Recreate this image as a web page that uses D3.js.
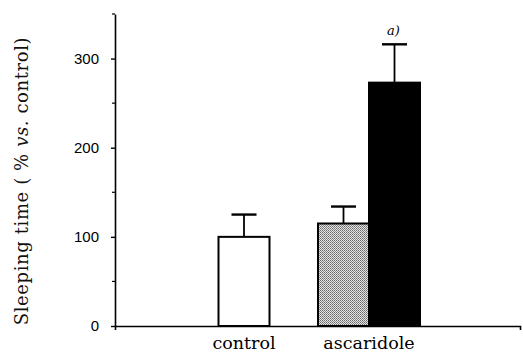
<!DOCTYPE html>
<html>
<head>
<meta charset="utf-8">
<script src="https://cdn.jsdelivr.net/npm/d3@7"></script>
<style>
  body { margin: 0; background: #fff; }
  svg { display: block; }
</style>
</head>
<body>
<svg width="523" height="354"></svg>
<script>
// data
const groups = ["control", "ascaridole"];
const barGroup = ["control", "ascaridole", "ascaridole"];
const barSlot = [0, -1, 1]; // 0 = centred, -1 left half, 1 right half
const barValues = [100, 115, 273];
const barErrors = [25, 19, 43];
const barFills = ["white", "url(#dots)", "black"];
const majorTicks = [0, 100, 200, 300];
const minorTicks = [50, 150, 250, 350];
const marks = ["", "", "a)"];

const serif = "'DejaVu Serif', 'Liberation Serif', serif";

let svg = d3.select("svg");

// halftone pattern for the grey bar
let defs = svg.append("defs");
let pat = defs
  .append("pattern")
  .attr("id", "dots")
  .attr("width", 2)
  .attr("height", 2)
  .attr("patternUnits", "userSpaceOnUse");
pat.append("rect").attr("width", 2).attr("height", 2).attr("fill", "#e4e4e4");
pat.append("rect").attr("width", 1).attr("height", 1).attr("fill", "#6a6a6a");
pat.append("rect").attr("x", 1).attr("y", 1).attr("width", 1).attr("height", 1).attr("fill", "#8a8a8a");

let y = d3.scaleLinear().domain([0, 350]).range([326, 14]);
let x = d3.scalePoint().domain(groups).range([244, 369]);
let barW = 51;

// x axis line, just a baseline with end ticks
let xLine = d3.scaleLinear().domain([0, 1]).range([115, 520]);
svg
  .append("g")
  .attr("transform", "translate(0,326)")
  .call(d3.axisBottom(xLine).tickValues([]).tickSizeOuter(4))
  .call((g) => g.select(".domain").attr("stroke-width", 1.6));

// y axis
let yAxis = svg.append("g").attr("transform", "translate(115,0)");
yAxis.call(
  d3.axisLeft(y).tickValues(majorTicks).tickSize(4).tickSizeOuter(0).tickPadding(12)
);
yAxis.select(".domain").attr("stroke-width", 1.6);
yAxis.selectAll(".tick line").attr("stroke-width", 1.4);
yAxis
  .selectAll(".tick text")
  .attr("font-family", "'Liberation Sans', Arial, sans-serif")
  .attr("font-size", "15px")
  .attr("fill", "#000");

svg
  .append("g")
  .selectAll("line")
  .data(minorTicks)
  .join("line")
  .attr("x1", 112)
  .attr("x2", 115)
  .attr("y1", (d) => y(d))
  .attr("y2", (d) => y(d))
  .attr("stroke", "#000")
  .attr("stroke-width", 1.2);

// bars
let bars = barValues.map((v, i) => {
  let cx = x(barGroup[i]) + (barSlot[i] * barW) / 2;
  return { v, e: barErrors[i], fill: barFills[i], mark: marks[i], cx };
});

let g = svg.append("g");

// error bars first so the bar outline sits over the stem
g.selectAll(".err")
  .data(bars)
  .join("line")
  .attr("class", "err")
  .attr("x1", (d) => d.cx)
  .attr("x2", (d) => d.cx)
  .attr("y1", (d) => y(d.v))
  .attr("y2", (d) => y(d.v + d.e))
  .attr("stroke", "#000")
  .attr("stroke-width", 1.8);

g.selectAll(".cap")
  .data(bars)
  .join("line")
  .attr("class", "cap")
  .attr("x1", (d) => d.cx - 12.5)
  .attr("x2", (d) => d.cx + 12.5)
  .attr("y1", (d) => y(d.v + d.e))
  .attr("y2", (d) => y(d.v + d.e))
  .attr("stroke", "#000")
  .attr("stroke-width", 2.4);

g.selectAll(".bar")
  .data(bars)
  .join("rect")
  .attr("class", "bar")
  .attr("x", (d) => d.cx - barW / 2)
  .attr("y", (d) => y(d.v))
  .attr("width", barW)
  .attr("height", (d) => y(0) - y(d.v))
  .attr("fill", (d) => d.fill)
  .attr("stroke", "#000")
  .attr("stroke-width", 2);

g.selectAll(".mark")
  .data(bars.filter((d) => d.mark))
  .join("text")
  .attr("class", "mark")
  .attr("x", (d) => d.cx - 1)
  .attr("y", (d) => y(d.v + d.e) - 9)
  .attr("text-anchor", "middle")
  .attr("font-family", serif)
  .attr("font-style", "italic")
  .attr("font-size", "13px")
  .text((d) => d.mark);

// category labels
svg
  .append("g")
  .selectAll("text")
  .data(groups)
  .join("text")
  .attr("x", (d) => x(d))
  .attr("y", 349)
  .attr("text-anchor", "middle")
  .attr("font-family", serif)
  .attr("font-size", "17.5px")
  .text((d) => d);

// y title
let title = svg
  .append("text")
  .attr("transform", "translate(28,181) rotate(-90)")
  .attr("text-anchor", "middle")
  .attr("font-family", serif)
  .attr("font-size", "18px")
  .attr("letter-spacing", "0.6px")
  .attr("fill", "#111");
title.append("tspan").text("Sleeping time ( % ");
title.append("tspan").attr("font-style", "italic").text("vs.");
title.append("tspan").text(" control)");
</script>
</body>
</html>
